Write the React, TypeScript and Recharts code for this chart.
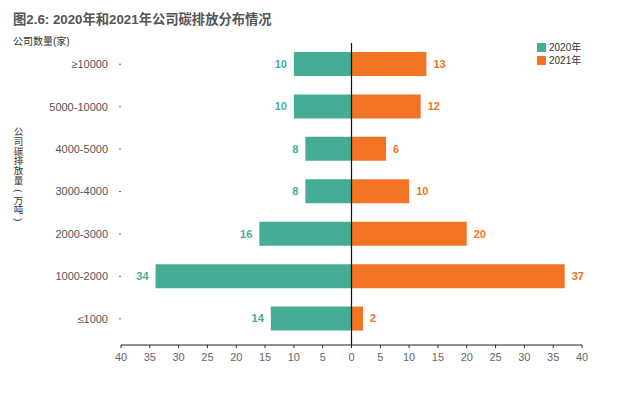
import { BarChart, Bar, XAxis, YAxis, ReferenceLine, LabelList } from 'recharts'

// emission bands (10k tonnes), top to bottom
const categories = ['≥10000', '5000-10000', '4000-5000', '3000-4000', '2000-3000', '1000-2000', '≤1000']
const companies2020 = [10, 10, 8, 8, 16, 34, 14]
const companies2021 = [13, 12, 6, 10, 20, 37, 2]
const xTicks = [-40, -35, -30, -25, -20, -15, -10, -5, 0, 5, 10, 15, 20, 25, 30, 35, 40]
const seriesNames = ['2020年', '2021年']
const yTitle = '公司碳排放量(万吨)'

const TEAL = '#45ad96'
const ORANGE = '#f37324'
const FONT = '"Liberation Sans", "Noto Sans CJK SC", sans-serif'

// 2020 drawn to the left as negatives
const data = categories.map((c, i) => ({
  band: c,
  y2020: -companies2020[i],
  y2021: companies2021[i],
}))

// value label at the outer end of each bar
const endLabel = (color: string) => (props: any) => {
  const { x, y, width, height, value } = props
  const left = Math.min(x, x + width)
  const right = Math.max(x, x + width)
  const neg = value < 0
  return (
    <text
      x={neg ? left - 7 : right + 7}
      y={y + height / 2}
      dy="0.35em"
      textAnchor={neg ? 'end' : 'start'}
      fill={color}
      fontSize={11}
      fontWeight="bold"
    >
      {Math.abs(value)}
    </text>
  )
}

export default function App() {
  return (
    <div style={{ position: 'absolute', left: 0, top: 0, width: 641, height: 397, background: 'white', fontFamily: FONT }}>
      <div style={{ position: 'absolute', left: 13, top: 9, fontSize: 13.3, fontWeight: 'bold', color: '#555', whiteSpace: 'nowrap' }}>
        图2.6: 2020年和2021年公司碳排放分布情况
      </div>
      <div style={{ position: 'absolute', left: 13, top: 33, fontSize: 10, color: '#333' }}>
        公司数量(家)
      </div>
      {/* vertical axis title, one upright character per line */}
      <div style={{ position: 'absolute', left: 13, top: 127, width: 11, fontSize: 9.5, color: '#333', textAlign: 'center' }}>
        {Array.from(yTitle).map((ch, i) => (
          <div key={i} style={{ height: 9.8, lineHeight: '9.8px', transform: ch === '(' || ch === ')' ? 'rotate(90deg)' : undefined }}>
            {ch}
          </div>
        ))}
      </div>
      <div style={{ position: 'absolute', left: 537, top: 41, fontSize: 10, lineHeight: '13px', color: '#333' }}>
        {seriesNames.map((n, i) => (
          <div key={n} style={{ display: 'flex', alignItems: 'center' }}>
            <span style={{ display: 'inline-block', width: 9, height: 9, marginRight: 3, background: i === 0 ? TEAL : ORANGE }} />
            {n}
          </div>
        ))}
      </div>
      <BarChart
        width={641}
        height={397}
        data={data}
        layout="vertical"
        stackOffset="sign"
        margin={{ top: 43, right: 59, bottom: 22, left: 0 }}
        style={{ position: 'absolute', left: 0, top: 0, fontFamily: FONT }}
      >
        <XAxis
          type="number"
          domain={[-40, 40]}
          ticks={xTicks}
          tickFormatter={(v: number) => String(Math.abs(v))}
          stroke="#222"
          tickSize={3}
          tickMargin={5}
          tick={{ fontSize: 11, fill: '#666' }}
        />
        <YAxis
          type="category"
          dataKey="band"
          width={121}
          axisLine={false}
          tickSize={2}
          tickMargin={11}
          padding={{ top: 0, bottom: 5 }}
          stroke="#666"
          tick={{ fontSize: 11, fill: '#555' }}
        />
        <Bar dataKey="y2020" name={seriesNames[0]} stackId="a" fill={TEAL} barSize={24} isAnimationActive={false}>
          <LabelList dataKey="y2020" content={endLabel(TEAL)} />
        </Bar>
        <Bar dataKey="y2021" name={seriesNames[1]} stackId="a" fill={ORANGE} barSize={24} isAnimationActive={false}>
          <LabelList dataKey="y2021" content={endLabel(ORANGE)} />
        </Bar>
        <ReferenceLine x={0} stroke="#111" strokeWidth={1.2} />
      </BarChart>
    </div>
  )
}
